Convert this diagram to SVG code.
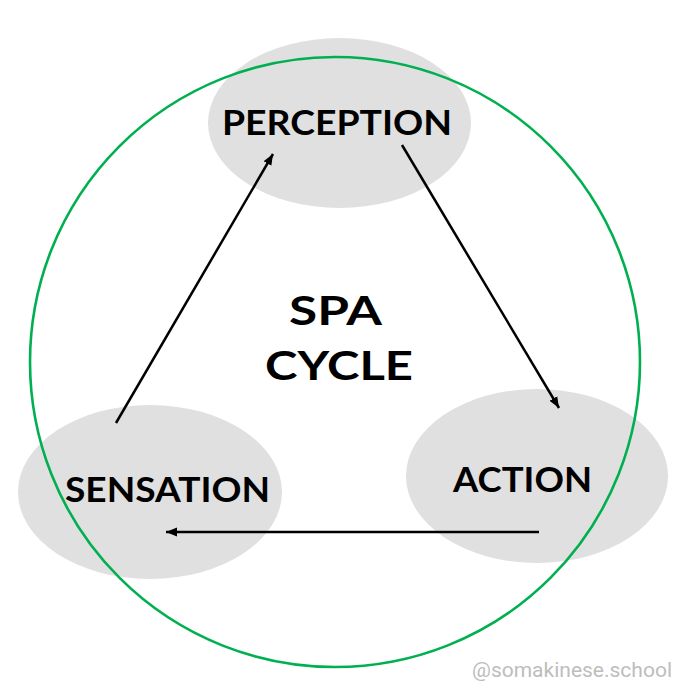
<svg xmlns="http://www.w3.org/2000/svg" width="692" height="697" viewBox="0 0 692 697">
<style>
.node{fill:#e0e0e0;}
.lbl{font-family:Lato,"Liberation Sans",sans-serif;font-weight:700;fill:#000;text-anchor:middle;}
.edge{stroke:#000;stroke-width:2.5;fill:none;marker-end:url(#ah);}
</style>
<defs>
<marker id="ah" markerUnits="userSpaceOnUse" markerWidth="12" markerHeight="10" refX="11" refY="5" orient="auto">
<path d="M0,0.5 L11,5 L0,9.5 z" fill="#000"/>
</marker>
</defs>
<rect width="692" height="697" fill="#fff"/>
<g id="perception">
<ellipse class="node" cx="339.5" cy="123" rx="131.5" ry="85"/>
</g>
<g id="sensation">
<ellipse class="node" cx="150" cy="492" rx="132" ry="87"/>
</g>
<g id="action">
<ellipse class="node" cx="537" cy="476" rx="131" ry="87"/>
</g>
<g id="cycle-ring">
<circle cx="335" cy="362" r="305" fill="none" stroke="#00b050" stroke-width="2.6"/>
</g>
<g id="labels">
<text class="lbl" x="337" y="135" font-size="33.5" textLength="230" lengthAdjust="spacingAndGlyphs">PERCEPTION</text>
<text class="lbl" x="167.5" y="502" font-size="33.5" textLength="205" lengthAdjust="spacingAndGlyphs">SENSATION</text>
<text class="lbl" x="522.5" y="492" font-size="33.5" textLength="139" lengthAdjust="spacingAndGlyphs">ACTION</text>
<g id="center">
<text class="lbl" x="335.5" y="325" font-size="41" textLength="93" lengthAdjust="spacingAndGlyphs">SPA</text>
<text class="lbl" x="339" y="380" font-size="41" textLength="148" lengthAdjust="spacingAndGlyphs">CYCLE</text>
</g>
</g>
<g id="connectors">
<line class="edge" x1="116" y1="423" x2="273" y2="154"/>
<line class="edge" x1="402" y1="145" x2="559" y2="408"/>
<line class="edge" x1="539" y1="532" x2="166" y2="532"/>
</g>
<text x="672" y="677" font-family="Roboto,'Liberation Sans',sans-serif" font-size="21" fill="#bdbdbd" text-anchor="end">@somakinese.school</text>
</svg>
